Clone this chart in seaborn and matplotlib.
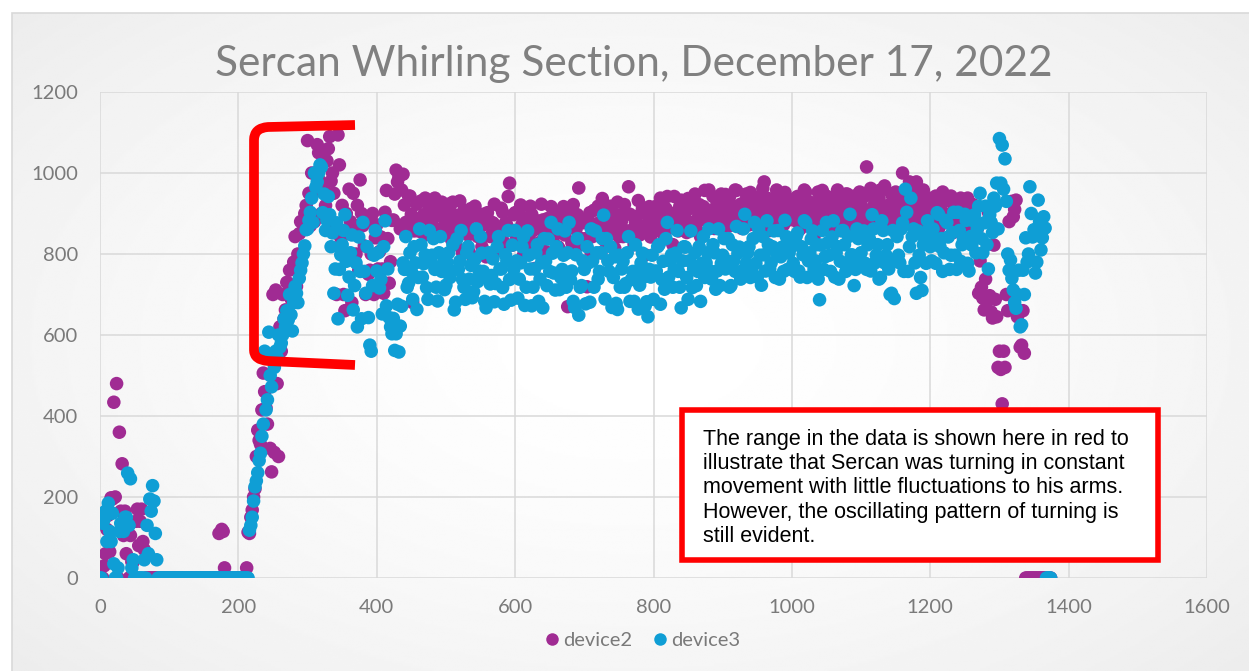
import numpy as np
import pandas as pd
import matplotlib
matplotlib.use("Agg")
import matplotlib.pyplot as plt
from matplotlib.path import Path
from matplotlib.patches import PathPatch, Rectangle
from matplotlib.lines import Line2D
import seaborn as sns

# ---------------------------------------------------------------------------
# Readings. Each device is stored as two interleaved lists:
#   *_a holds samples 0, 4, 8, ...   *_b holds samples 2, 6, 10, ...
# One row per 100 samples (25 readings).
# ---------------------------------------------------------------------------
STEP = 2

device2_a = [
    0, 0, 60, 155, 198, 434, 480, 360, 282, 165, 135, 105, 40, 140, 80, 170, 70, 0, 0, 0, 0, 0, 0, 0, 0,
    0, 0, 0, 0, 0, 0, 0, 0, 0, 0, 0, 0, 0, 0, 0, 0, 0, 0, 110, 120, 25, 0, 0, 0, 0,
    0, 0, 0, 25, 110, 168, 220, 365, 330, 506, 420, 543, 262, 310, 480, 620, 700, 662, 728, 690, 780, 720, 850, 800, 900,
    1080, 870, 950, 1000, 1050, 900, 960, 1030, 1090, 1000, 870, 1094, 840, 700, 900, 960, 680, 870, 920, 983, 870, 700, 750, 800, 700,
    872, 806, 763, 903, 838, 781, 884, 1007, 990, 958, 921, 868, 943, 680, 883, 857, 931, 897, 848, 917, 884, 938, 902, 861, 912,
    878, 923, 836, 897, 866, 931, 803, 884, 847, 912, 786, 862, 893, 818, 873, 902, 843, 877, 806, 858, 913, 829, 871, 975, 822,
    902, 857, 921, 797, 883, 842, 898, 764, 863, 829, 884, 806, 857, 917, 844, 881, 812, 903, 847, 670, 878, 922, 861, 963, 838,
    883, 719, 902, 843, 871, 918, 803, 858, 903, 852, 877, 814, 928, 867, 843, 902, 966, 858, 823, 893, 847, 912, 798, 873, 842,
    882, 918, 863, 903, 838, 942, 877, 823, 902, 857, 933, 878, 853, 913, 868, 948, 887, 843, 917, 883, 958, 897, 863, 927, 884,
    903, 947, 868, 922, 877, 957, 898, 863, 928, 887, 952, 873, 908, 938, 883, 978, 902, 858, 933, 887, 947, 913, 872, 938, 903,
    918, 883, 942, 862, 908, 953, 877, 903, 843, 928, 893, 957, 873, 918, 882, 938, 903, 858, 932, 878, 948, 902, 868, 933, 892,
    922, 878, 1015, 903, 862, 938, 892, 958, 873, 917, 883, 948, 897, 863, 943, 1000, 898, 957, 883, 928, 978, 903, 947, 872, 932,
    918, 883, 943, 862, 908, 877, 932, 898, 852, 918, 883, 938, 903, 858, 928, 882, 913, 862, 783, 691, 738, 903, 657, 822, 645,
    560, 430, 520, 660, 760, 892, 933, 661, 575, 555, 0, 0, 0, 0, 0, 0, 0, 0, 0,
]

device2_b = [
    0, 30, 120, 65, 195, 200, 0, 165, 105, 60, 0, 40, 0, 170, 140, 90, 0, 0, 0, 0, 0, 0, 0, 0, 0,
    0, 0, 0, 0, 0, 0, 0, 0, 0, 0, 0, 0, 0, 0, 0, 0, 0, 0, 0, 115, 0, 0, 0, 0, 0,
    0, 0, 0, 113, 150, 200, 300, 340, 415, 460, 380, 320, 700, 711, 300, 560, 640, 730, 760, 700, 843, 800, 880, 860, 920,
    950, 1000, 880, 1070, 980, 1040, 920, 1060, 980, 950, 700, 1020, 920, 660, 850, 880, 950, 800, 760, 900, 820, 880, 760, 900, 840,
    763, 842, 703, 957, 728, 883, 948, 978, 862, 997, 878, 943, 898, 857, 923, 887, 853, 938, 902, 877, 863, 918, 848, 928, 883,
    857, 903, 928, 823, 878, 852, 908, 868, 803, 893, 918, 843, 868, 898, 793, 883, 847, 923, 868, 838, 903, 877, 942, 858, 897,
    843, 908, 873, 888, 822, 918, 858, 883, 802, 923, 852, 887, 838, 878, 903, 818, 882, 917, 862, 893, 828, 872, 897, 823, 877,
    838, 882, 803, 908, 853, 878, 937, 832, 883, 918, 858, 897, 843, 882, 922, 857, 898, 838, 877, 932, 868, 853, 898, 917, 862,
    897, 858, 938, 882, 912, 863, 897, 942, 868, 918, 883, 902, 937, 878, 913, 862, 922, 898, 957, 893, 908, 942, 878, 903, 948,
    883, 918, 942, 892, 958, 878, 923, 897, 948, 872, 913, 938, 893, 917, 962, 882, 937, 912, 878, 958, 898, 932, 952, 883, 918,
    903, 938, 882, 923, 958, 893, 928, 872, 917, 953, 878, 912, 943, 898, 862, 922, 958, 887, 913, 948, 883, 918, 943, 898, 953,
    897, 943, 878, 962, 918, 883, 937, 902, 968, 878, 923, 897, 953, 917, 883, 942, 918, 978, 903, 948, 922, 877, 958, 912, 938,
    903, 938, 882, 917, 953, 898, 878, 943, 908, 872, 928, 903, 883, 938, 897, 922, 878, 703, 718, 662, 683, 697, 642, 688, 520,
    515, 560, 700, 880, 930, 910, 645, 570, 660, 0, 0, 0, 0, 0, 0, 0, 0, 0, 0,
]

device3_a = [
    0, 135, 165, 185, 90, 35, 0, 115, 135, 150, 259, 245, 45, 0, 0, 0, 45, 130, 195, 228, 110, 0, 0, 0, 0,
    0, 0, 0, 0, 0, 0, 0, 0, 0, 0, 0, 0, 0, 0, 0, 0, 0, 0, 0, 0, 0, 0, 0, 0, 0,
    0, 0, 0, 0, 118, 150, 225, 260, 308, 380, 415, 607, 472, 520, 545, 570, 600, 620, 637, 650, 680, 703, 740, 778, 820,
    862, 903, 878, 965, 1000, 1015, 948, 883, 897, 852, 763, 640, 798, 858, 782, 743, 847, 722, 620, 757, 878, 703, 643, 560, 797,
    758, 716, 652, 882, 763, 620, 641, 603, 558, 671, 762, 718, 803, 688, 778, 742, 823, 776, 717, 858, 797, 762, 684, 843, 777,
    723, 803, 757, 662, 838, 782, 737, 688, 818, 772, 707, 862, 758, 802, 683, 743, 726, 788, 727, 843, 763, 676, 783, 737, 822,
    858, 691, 778, 842, 718, 797, 672, 763, 823, 738, 667, 782, 837, 878, 753, 818, 712, 762, 857, 803, 737, 683, 798, 649, 722,
    762, 818, 681, 783, 857, 738, 803, 896, 838, 757, 668, 793, 663, 718, 782, 727, 843, 737, 683, 758, 723, 802, 672, 645, 743,
    688, 758, 823, 737, 713, 878, 783, 718, 802, 757, 667, 818, 742, 783, 717, 803, 757, 683, 843, 778, 862, 738, 803, 758, 722,
    797, 763, 838, 722, 783, 868, 817, 758, 898, 803, 742, 838, 777, 862, 723, 798, 882, 763, 818, 742, 858, 793, 757, 843, 802,
    818, 757, 852, 743, 798, 878, 783, 837, 762, 823, 687, 858, 793, 828, 757, 882, 803, 738, 857, 823, 777, 898, 797, 762, 838,
    803, 857, 762, 838, 897, 778, 823, 742, 858, 797, 763, 703, 690, 843, 778, 877, 960, 757, 938, 862, 703, 797, 710, 838, 882,
    818, 862, 777, 898, 838, 803, 878, 762, 853, 797, 903, 782, 837, 883, 758, 822, 897, 862, 950, 803, 918, 763, 878, 938, 975,
    1085, 1069, 1035, 800, 785, 711, 666, 760, 625, 700, 780, 966, 842, 753, 933, 810, 892, 0, 0,
]

device3_b = [
    0, 145, 90, 115, 160, 0, 25, 135, 115, 150, 130, 25, 0, 0, 0, 0, 0, 60, 165, 190, 45, 0, 0, 0, 0,
    0, 0, 0, 0, 0, 0, 0, 0, 0, 0, 0, 0, 0, 0, 0, 0, 0, 0, 0, 0, 0, 0, 0, 0, 0,
    0, 0, 0, 0, 130, 190, 240, 290, 350, 560, 440, 500, 540, 560, 600, 580, 640, 660, 700, 610, 720, 680, 760, 800, 860,
    883, 938, 1000, 978, 1020, 902, 858, 942, 818, 703, 877, 762, 823, 897, 698, 803, 662, 778, 842, 640, 757, 818, 575, 722, 858,
    803, 737, 818, 672, 643, 603, 562, 676, 622, 778, 843, 728, 757, 818, 663, 862, 743, 798, 688, 783, 838, 718, 803, 757, 712,
    778, 742, 823, 681, 762, 858, 718, 803, 738, 692, 787, 732, 843, 757, 667, 803, 747, 682, 818, 763, 717, 798, 858, 686, 762,
    783, 738, 818, 673, 857, 763, 718, 803, 683, 778, 838, 722, 757, 802, 711, 862, 742, 797, 718, 878, 758, 668, 838, 718, 783,
    677, 778, 862, 718, 803, 757, 838, 689, 783, 818, 742, 678, 797, 763, 718, 803, 683, 757, 823, 664, 778, 743, 682, 762, 797,
    757, 818, 676, 782, 838, 743, 798, 762, 858, 718, 783, 817, 688, 857, 763, 722, 818, 777, 742, 803, 758, 823, 713, 862, 777,
    838, 783, 718, 823, 757, 802, 738, 862, 777, 818, 762, 878, 743, 797, 843, 758, 823, 778, 857, 803, 738, 817, 883, 762, 823,
    777, 843, 758, 818, 882, 742, 803, 857, 783, 738, 822, 762, 878, 797, 842, 743, 818, 782, 858, 757, 843, 798, 722, 862, 778,
    842, 777, 823, 758, 862, 797, 738, 882, 778, 823, 700, 858, 783, 797, 862, 757, 903, 818, 843, 778, 857, 742, 823, 777, 862,
    783, 838, 902, 818, 757, 883, 842, 797, 903, 762, 858, 823, 898, 777, 843, 882, 803, 918, 838, 877, 823, 897, 853, 918, 862,
    975, 960, 930, 760, 740, 680, 700, 620, 760, 840, 800, 900, 860, 780, 880, 840, 864, 0, 0,
]


def interleave(first, second):
    out = np.empty(len(first) + len(second))
    out[0::2] = first
    out[1::2] = second
    return out


device2 = interleave(device2_a, device2_b)
device3 = interleave(device3_a, device3_b)
sample = np.arange(len(device2)) * STEP

series_names = ["device2", "device3"]
series_colors = {"device2": "#A02B93", "device3": "#0F9ED5"}

x_ticks = [0, 200, 400, 600, 800, 1000, 1200, 1400, 1600]
y_ticks = [0, 200, 400, 600, 800, 1000, 1200]

title = "Sercan Whirling Section, December 17, 2022"
note = ("The range in the data is shown here in red to\n"
        "illustrate that Sercan was turning in constant\n"
        "movement with little fluctuations to his arms.\n"
        "However, the oscillating pattern of turning is\n"
        "still evident.")

df = pd.concat([
    pd.DataFrame({"sample": sample, "value": device2, "device": "device2"}),
    pd.DataFrame({"sample": sample, "value": device3, "device": "device3"}),
], ignore_index=True)

# ---------------------------------------------------------------------------
# Figure
# ---------------------------------------------------------------------------
sns.set_theme(style="white")
plt.rcParams["font.family"] = ["Lato", "DejaVu Sans"]

W, H = 1249, 671
fig = plt.figure(figsize=(W / 100, H / 100), dpi=100)
fig.patch.set_facecolor("white")


def fx(px):
    return px / W


def fy(py):
    return 1 - py / H


# chart-area fill: soft radial shading, white in the middle
bg = fig.add_axes([fx(12), 0, 1 - fx(12), fy(13)], zorder=-10)
gy, gx = np.mgrid[0:1:300j, 0:1:600j]
rad = np.sqrt(((gx - 0.5) / 0.55) ** 2 + ((gy - 0.5) / 0.6) ** 2)
shade = 1.0 - 0.075 * np.clip(rad / 1.25, 0, 1) ** 1.6
bg.imshow(shade, cmap="gray", vmin=0, vmax=1, aspect="auto",
          extent=[0, 1, 0, 1], interpolation="bilinear")
bg.axis("off")

fig.patches.append(Rectangle((fx(12), -0.1), 1.2, fy(13) + 0.1,
                             transform=fig.transFigure, fill=False,
                             edgecolor="#D9D9D9", linewidth=1.2, zorder=-5))

ax = fig.add_axes([fx(100), 1 - 578 / H, (1207 - 100) / W, (578 - 92) / H])
ax.patch.set_alpha(0)

sns.scatterplot(data=df, x="sample", y="value", hue="device",
                hue_order=series_names, palette=series_colors,
                s=95, linewidth=0, alpha=1, legend=False, ax=ax, zorder=3)

ax.set_xlim(0, 1600)
ax.set_ylim(0, 1200)
ax.set_xticks(x_ticks)
ax.set_yticks(y_ticks)
ax.set_xlabel("")
ax.set_ylabel("")
ax.grid(True, color="#D9D9D9", linewidth=1.1, zorder=0)
ax.set_axisbelow(True)
for sp in ax.spines.values():
    sp.set_visible(False)
ax.tick_params(axis="both", length=0, labelsize=14.5, labelcolor="#7A7A7A")
ax.tick_params(axis="y", pad=16)
ax.tick_params(axis="x", pad=15)

fig.text(fx(634), fy(76), title, ha="center", va="baseline",
         fontsize=30.5, color="#808080")

# legend under the plot
handles = [Line2D([], [], marker="o", linestyle="", markersize=9,
                  markerfacecolor=series_colors[n], markeredgewidth=0)
           for n in series_names]
fig.legend(handles, series_names, loc="center",
           bbox_to_anchor=(fx(641), fy(640)), ncol=2, frameon=False,
           fontsize=14.5, labelcolor="#7A7A7A", handletextpad=0.05,
           columnspacing=0.9, handlelength=1.0)

# red bracket around the turning range
bracket = Path(
    [(fx(355), fy(125)), (fx(268), fy(127)),
     (fx(254), fy(128)), (fx(254), fy(140)),
     (fx(254), fy(350)),
     (fx(254), fy(360)), (fx(268), fy(361)),
     (fx(355), fy(365))],
    [Path.MOVETO, Path.LINETO, Path.CURVE3, Path.CURVE3, Path.LINETO,
     Path.CURVE3, Path.CURVE3, Path.LINETO])
fig.patches.append(PathPatch(bracket, transform=fig.transFigure,
                             fill=False, edgecolor="#FF0000", linewidth=7,
                             capstyle="butt", joinstyle="round", zorder=6))

# annotation box
fig.patches.append(Rectangle((fx(682), fy(560)), (1158 - 682) / W,
                             (560 - 410) / H, transform=fig.transFigure,
                             facecolor="white", edgecolor="#FF0000",
                             linewidth=4, zorder=6))
fig.text(fx(703), fy(429), note, ha="left", va="top", fontsize=15.5,
         family=["Liberation Sans", "DejaVu Sans"], color="black",
         linespacing=1.2, zorder=7)

fig.savefig("out.png", dpi=100)
